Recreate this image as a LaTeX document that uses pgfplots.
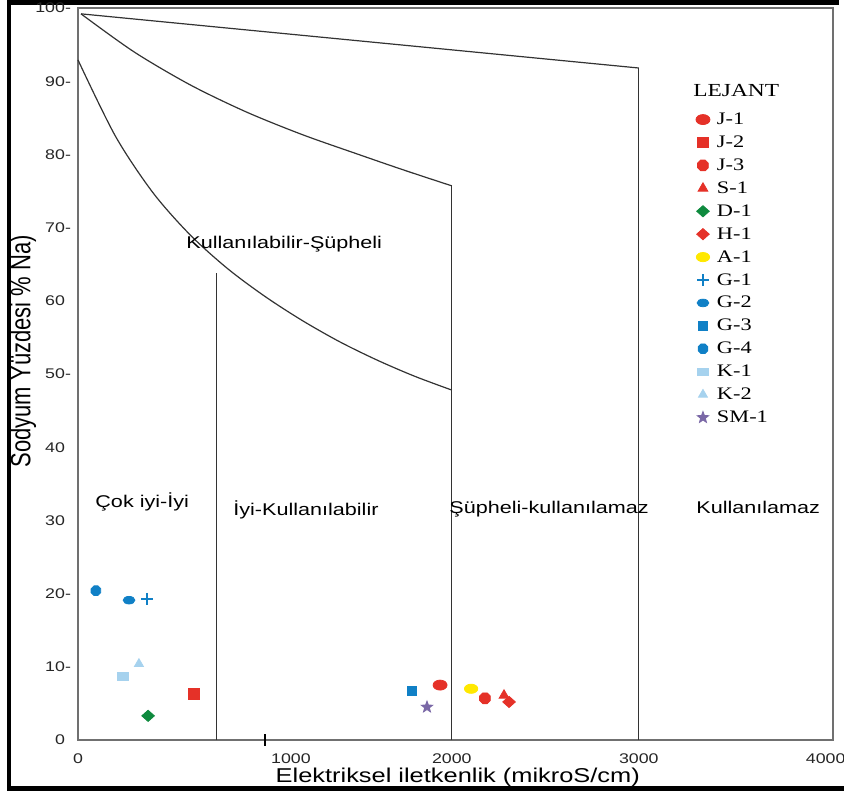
\documentclass[border=0pt]{standalone}
\usepackage{pgfplots}
\pgfplotsset{compat=1.18}
\usepackage{fontspec}
\setmainfont{Liberation Sans}
\newfontfamily\tnr{Liberation Serif}
\usepackage{graphicx}
\newcommand{\sx}[1]{\scalebox{1.27}[1]{#1}}
\definecolor{cred}{HTML}{E53128}
\definecolor{cgreen}{HTML}{0E8A3E}
\definecolor{cyellow}{HTML}{FFE800}
\definecolor{cblue}{HTML}{1080C6}
\definecolor{clblue}{HTML}{A6D2EE}
\definecolor{cpurple}{HTML}{7A68A6}
\definecolor{cframe}{HTML}{707070}
\definecolor{cline}{HTML}{333333}
\pgfdeclareplotmark{oct*}{%
  \pgfpathmoveto{\pgfpointpolar{22.5}{\pgfplotmarksize}}%
  \pgfpathlineto{\pgfpointpolar{67.5}{\pgfplotmarksize}}%
  \pgfpathlineto{\pgfpointpolar{112.5}{\pgfplotmarksize}}%
  \pgfpathlineto{\pgfpointpolar{157.5}{\pgfplotmarksize}}%
  \pgfpathlineto{\pgfpointpolar{202.5}{\pgfplotmarksize}}%
  \pgfpathlineto{\pgfpointpolar{247.5}{\pgfplotmarksize}}%
  \pgfpathlineto{\pgfpointpolar{292.5}{\pgfplotmarksize}}%
  \pgfpathlineto{\pgfpointpolar{337.5}{\pgfplotmarksize}}%
  \pgfpathclose\pgfusepathqfillstroke}
\pgfdeclareplotmark{fstar}{%
  \pgfpathmoveto{\pgfpointpolar{90}{\pgfplotmarksize}}%
  \pgfpathlineto{\pgfpointpolar{126}{0.42\pgfplotmarksize}}%
  \pgfpathlineto{\pgfpointpolar{162}{\pgfplotmarksize}}%
  \pgfpathlineto{\pgfpointpolar{198}{0.42\pgfplotmarksize}}%
  \pgfpathlineto{\pgfpointpolar{234}{\pgfplotmarksize}}%
  \pgfpathlineto{\pgfpointpolar{270}{0.42\pgfplotmarksize}}%
  \pgfpathlineto{\pgfpointpolar{306}{\pgfplotmarksize}}%
  \pgfpathlineto{\pgfpointpolar{342}{0.42\pgfplotmarksize}}%
  \pgfpathlineto{\pgfpointpolar{18}{\pgfplotmarksize}}%
  \pgfpathlineto{\pgfpointpolar{54}{0.42\pgfplotmarksize}}%
  \pgfpathclose\pgfusepathqfillstroke}
\begin{document}
\begin{tikzpicture}
\fill[black] (3.5pt,2.5pt) rectangle (422pt,5pt);
\fill[black] (3.5pt,2.5pt) rectangle (5.5pt,398pt);
\fill[black] (3.5pt,395.5pt) rectangle (419.5pt,398pt);
\begin{axis}[
  at={(39pt,28pt)}, anchor=south west,
  scale only axis, width=377.5pt, height=366pt,
  xmin=0, xmax=4039, ymin=0, ymax=100,
  clip=false,
  axis line style={draw=cframe, line width=0.7pt},
  tick pos=left,
  major tick length=0pt,
  xtick={0,1000,2000,3000,4000},
  xticklabels={\sx{0},{\hspace*{26pt}\sx{1000}},\sx{2000},\sx{3000},\sx{4000}},
  ytick={0,10,20,30,40,50,60,70,80,90,100},
  yticklabels={\sx{0\phantom{-}},\sx{10-},\sx{20-},\sx{30\phantom{-}},\sx{40\phantom{-}},\sx{50-},\sx{60\phantom{-}},\sx{70-},\sx{80-},\sx{90-},\sx{100-}},
  xticklabel style={anchor=base, yshift=-11.5pt, font=\fontsize{7}{8}\selectfont, text=black!85},
  yticklabel style={anchor=east, font=\fontsize{7}{8}\selectfont, text=black!85},
  extra x ticks={1000},
  extra x tick labels={},
  extra x tick style={major tick length=5.5pt, tick align=center, tick style={draw=black, line width=0.6pt}},
  xlabel={\sx{Elektriksel iletkenlik (mikroS/cm)}},
  ylabel={\scalebox{1}[1.27]{Sodyum Yüzdesi \% Na)}},
  every axis x label/.style={at={(rel axis cs:0.503,-0.0587)}, anchor=base, font=\fontsize{10}{12}\selectfont},
  every axis y label/.style={at={(rel axis cs:-0.0728,0.531)}, rotate=90, anchor=center, font=\fontsize{11}{13}\selectfont},
  legend style={draw=none, fill=none, at={(rel axis cs:0.8185,0.8626)}, anchor=north west,
    inner sep=0pt, outer sep=0pt, row sep=0.46pt, column sep=2.5pt,
    font=\tnr\fontsize{8.8}{10}\selectfont,
    nodes={inner sep=1pt, text height=7pt, text depth=2pt}},
  legend cell align=left,
  legend image code/.code={\draw[mark repeat=2,mark phase=2,#1] plot coordinates {(0pt,0pt) (3pt,0pt) (6pt,0pt)};},
]
% boundary lines
\addplot[cline, line width=0.6pt, smooth, forget plot] coordinates {
 (0,92.9) (200,82.5) (400,74.8) (600,69.0) (800,64.4) (1000,60.6) (1200,57.3) (1400,54.4) (1600,51.9) (1800,49.7) (2000,47.8)};
\addplot[cline, line width=0.6pt, smooth, forget plot] coordinates {
 (16,99.2) (300,94.0) (600,89.5) (900,85.8) (1200,82.7) (1500,80.0) (1750,77.8) (2000,75.7)};
\addplot[cline, line width=0.6pt, forget plot] coordinates {(16,99.2) (3000,91.8)};
\addplot[cline, line width=0.6pt, forget plot] coordinates {(740,0) (740,63.8)};
\addplot[cline, line width=0.6pt, forget plot] coordinates {(2000,0) (2000,75.7)};
\addplot[cline, line width=0.6pt, forget plot] coordinates {(3000,0) (3000,91.8)};
% samples
\addplot[only marks, color=cred, mark=*, mark size=2.5pt, mark options={xscale=1.4}] coordinates {(1937,7.5)};
\addlegendentry{\sx{J-1}}
\addplot[only marks, color=cred, mark=square*, mark size=2.6pt] coordinates {(621,6.3)};
\addlegendentry{\sx{J-2}}
\addplot[only marks, color=cred, mark=oct*, mark size=2.9pt] coordinates {(2177,5.7)};
\addlegendentry{\sx{J-3}}
\addplot[only marks, color=cred, mark=triangle*, mark size=2.8pt] coordinates {(2279,6.1)};
\addlegendentry{\sx{S-1}}
\addplot[only marks, color=cgreen, mark=diamond*, mark size=2.8pt, mark options={xscale=1.5}] coordinates {(375,3.3)};
\addlegendentry{\sx{D-1}}
\addplot[only marks, color=cred, mark=diamond*, mark size=2.8pt, mark options={xscale=1.5}] coordinates {(2306,5.2)};
\addlegendentry{\sx{H-1}}
\addplot[only marks, color=cyellow, mark=*, mark size=2.3pt, mark options={xscale=1.45}] coordinates {(2103,7.0)};
\addlegendentry{\sx{A-1}}
\addplot[only marks, color=cblue, mark=+, mark size=2.9pt, mark options={line width=1pt}] coordinates {(369,19.3)};
\addlegendentry{\sx{G-1}}
\addplot[only marks, color=cblue, mark=*, mark size=1.9pt, mark options={xscale=1.55}] coordinates {(273,19.1)};
\addlegendentry{\sx{G-2}}
\addplot[only marks, color=cblue, mark=square*, mark size=2.4pt] coordinates {(1787,6.7)};
\addlegendentry{\sx{G-3}}
\addplot[only marks, color=cblue, mark=oct*, mark size=2.6pt] coordinates {(96,20.4)};
\addlegendentry{\sx{G-4}}
\addplot[only marks, color=clblue, mark=square*, mark size=1.8pt, mark options={xscale=1.5}] coordinates {(241,8.7)};
\addlegendentry{\sx{K-1}}
\addplot[only marks, color=clblue, mark=triangle*, mark size=2.6pt] coordinates {(326,10.4)};
\addlegendentry{\sx{K-2}}
\addplot[only marks, color=cpurple, mark=fstar, mark size=3pt] coordinates {(1867,4.5)};
\addlegendentry{\sx{SM-1}}
% region labels
\node[anchor=base west, inner sep=0pt, font=\fontsize{8.5}{10}\selectfont] at (axis cs:578,67.2) {\sx{Kullanılabilir-Şüpheli}};
\node[anchor=base west, inner sep=0pt, font=\fontsize{8.5}{10}\selectfont] at (axis cs:91,31.8) {\sx{Çok iyi-İyi}};
\node[anchor=base west, inner sep=0pt, font=\fontsize{8.5}{10}\selectfont] at (axis cs:829,30.7) {\sx{İyi-Kullanılabilir}};
\node[anchor=base west, inner sep=0pt, font=\fontsize{8.5}{10}\selectfont] at (axis cs:1985,30.9) {\sx{Şüpheli-kullanılamaz}};
\node[anchor=base west, inner sep=0pt, font=\fontsize{8.5}{10}\selectfont] at (axis cs:3306,30.9) {\sx{Kullanılamaz}};
\node[anchor=base west, inner sep=0pt, font=\tnr\fontsize{9.2}{11}\selectfont] at (axis cs:3290,87.9) {\sx{LEJANT}};
\end{axis}
\pgfresetboundingbox
\useasboundingbox (0,0) rectangle (422pt,398pt);
\end{tikzpicture}
\end{document}
